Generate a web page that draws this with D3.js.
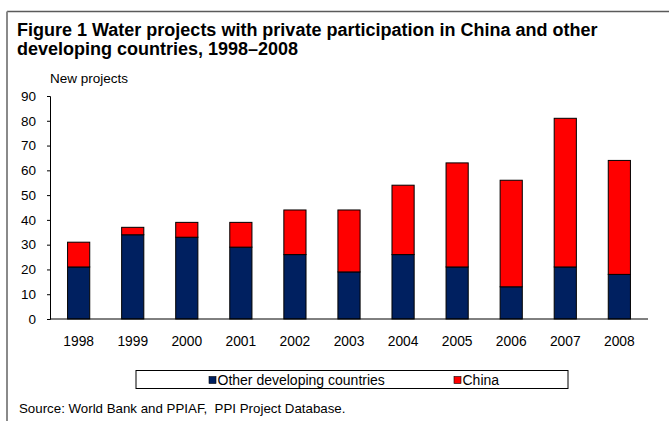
<!DOCTYPE html>
<html>
<head>
<meta charset="utf-8">
<script src="https://cdn.jsdelivr.net/npm/d3@7"></script>
<style>
  html, body { margin: 0; padding: 0; background: #fff; }
  svg { display: block; font-family: Arial, "Liberation Sans", sans-serif; }
</style>
</head>
<body>
<svg id="chart" width="669" height="421"></svg>
<script>
// Water projects with private participation, 1998–2008
const years = ["1998","1999","2000","2001","2002","2003","2004","2005","2006","2007","2008"];
const otherDeveloping = [21, 34, 33, 29, 26, 19, 26, 21, 13, 21, 18];
const china = [10, 3, 6, 10, 18, 25, 28, 42, 43, 60, 46];
const yTicks = [0, 10, 20, 30, 40, 50, 60, 70, 80, 90];
const seriesNames = ["Other developing countries", "China"];
const seriesColors = ["#002060", "#ff0000"];

const svg = d3.select("#chart");

// Frame: top and left rule
svg.append("line").attr("x1", 7).attr("x2", 669).attr("y1", 11.5).attr("y2", 11.5)
  .attr("stroke", "#5a5a5a").attr("stroke-width", 1.5);
svg.append("line").attr("x1", 7).attr("x2", 7).attr("y1", 11.5).attr("y2", 421)
  .attr("stroke", "#8a8a8a").attr("stroke-width", 2);

// Title
const title = svg.append("text").attr("x", 17).attr("font-weight", "bold")
  .attr("font-size", 18).attr("fill", "#000");
title.append("tspan").attr("x", 17).attr("y", 35.5)
  .text("Figure 1 Water projects with private participation in China and other");
title.append("tspan").attr("x", 17).attr("y", 55)
  .text("developing countries, 1998\u20132008");

// Axis title
svg.append("text").attr("x", 50).attr("y", 82.5).attr("font-size", 13.5)
  .text("New projects");

const x = d3.scaleBand().domain(years).range([50, 648])
  .paddingInner(0.59).paddingOuter(0.325);
const y = d3.scaleLinear().domain([0, 90]).range([319, 96]);

const rows = years.map((yr, i) => ({ year: yr, other: otherDeveloping[i], china: china[i] }));
const stack = d3.stack().keys(["other", "china"])(rows);

// Bars
const layers = svg.append("g").selectAll("g").data(stack).join("g")
  .attr("fill", (d, i) => seriesColors[i]);
layers.selectAll("rect").data(d => d).join("rect")
  .attr("x", d => x(d.data.year))
  .attr("y", d => y(d[1]))
  .attr("width", x.bandwidth())
  .attr("height", d => y(d[0]) - y(d[1]))
  .attr("stroke", "#000").attr("stroke-width", 1);

// Y axis
const yAxis = svg.append("g").attr("transform", "translate(50,0)")
  .call(d3.axisLeft(y).tickValues(yTicks).tickSize(3).tickPadding(11));
yAxis.select(".domain").attr("stroke", "#000");
yAxis.selectAll("line").attr("stroke", "#000");
yAxis.selectAll("text").attr("font-size", 13.5).attr("fill", "#000")
  .attr("font-family", "Arial, 'Liberation Sans', sans-serif");

// X axis
const xAxis = svg.append("g").attr("transform", "translate(0,319)")
  .call(d3.axisBottom(x).tickSize(0).tickPadding(17));
xAxis.select(".domain").attr("stroke", "#000").attr("d", "M50,0H648");
xAxis.selectAll("text").attr("font-size", 13.8).attr("fill", "#000")
  .attr("font-family", "Arial, 'Liberation Sans', sans-serif");

// Legend
const legend = svg.append("g");
legend.append("rect").attr("x", 136).attr("y", 370.5).attr("width", 432).attr("height", 18)
  .attr("fill", "#fff").attr("stroke", "#000").attr("stroke-width", 1);
const legendX = [209, 454];
seriesNames.forEach((name, i) => {
  legend.append("rect").attr("x", legendX[i]).attr("y", 376.5).attr("width", 7).attr("height", 7)
    .attr("fill", seriesColors[i]).attr("stroke", "#000").attr("stroke-width", 0.6);
  legend.append("text").attr("x", legendX[i] + 8.5).attr("y", 385).attr("font-size", 14)
    .text(name);
});

// Source note
svg.append("text").attr("x", 19).attr("y", 412.5).attr("font-size", 13.3)
  .style("white-space", "pre")
  .text("Source: World Bank and PPIAF,  PPI Project Database.");
</script>
</body>
</html>
